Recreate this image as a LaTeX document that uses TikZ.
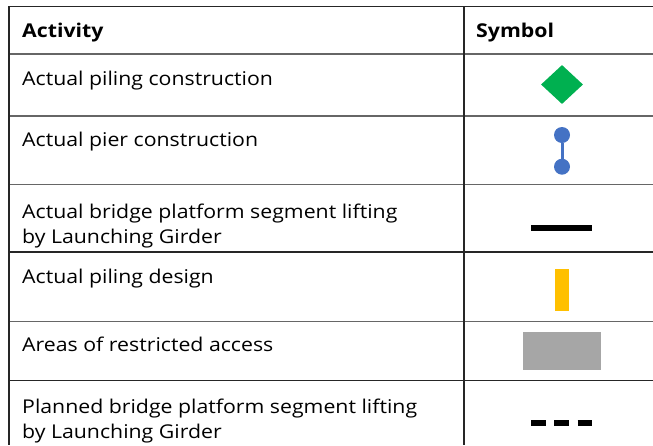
\documentclass[tikz,border=0pt]{standalone}
\usepackage{fontspec}
\setmainfont{Open Sans}[FakeStretch = 1.12]
\usetikzlibrary{shapes.geometric}

\definecolor{pilegreen}{HTML}{00B050}
\definecolor{pierblue}{HTML}{4472C4}
\definecolor{designyellow}{HTML}{FFC000}
\definecolor{areagray}{HTML}{A6A6A6}

\tikzset{
  rule/.style     = {line width = 1.5pt, black!85},
  softrule/.style = {line width = 1.5pt, black!60},
  cell/.style     = {anchor = base west, inner sep = 0pt, align = left,
                     font = \fontsize{19}{25}\selectfont},
  headcell/.style = {cell, font = \fontsize{19}{25}\selectfont\bfseries},
  pierend/.style  = {circle, fill = pierblue, minimum size = 16pt, inner sep = 0pt},
}

\begin{document}
\begin{tikzpicture}[x = 1pt, y = -1pt]
          \useasboundingbox (0,0) rectangle (653,445);

          % grid
          \draw[rule]     (9,6.7)   -- (653,6.7);
          \draw[softrule] (9,54)    -- (653,54);
          \draw[softrule] (9,116)   -- (653,116);
          \draw[softrule] (9,184.5) -- (653,184.5);
          \draw[rule]     (9,252)   -- (653,252);
          \draw[softrule] (9,321.5) -- (653,321.5);
          \draw[rule]     (9,380.3) -- (653,380.3);
          \draw[rule]     (9,6)     -- (9,445);
          \draw[rule]     (464,6)   -- (464,445);

          % header
          \node[headcell] at ( 22, 37.3) (hact) {Activity};
          \node[headcell] at (476, 37.3) (hsym) {Symbol};

          % activities (two-line cells sit on their last baseline)
          \node[cell] at (22, 85)    (pilecon)  {Actual piling construction};
          \node[cell] at (22,146.7)  (piercon)  {Actual pier construction};
          \node[cell] at (22,243.3)  (liftact)  {Actual bridge platform segment lifting\\by Launching Girder};
          \node[cell] at (22,283.3)  (piledes)  {Actual piling design};
          \node[cell] at (22,351.7)  (restrict) {Areas of restricted access};
          \node[cell] at (22,438.3)  (liftplan) {Planned bridge platform segment lifting\\by Launching Girder};

          % symbols
          \node[diamond, fill = pilegreen, minimum width = 42pt, minimum height = 39pt,
                inner sep = 0pt] at (562,84.5) (pilesym) {};

          \node[pierend] at (562,135)   (piertop) {};
          \node[pierend] at (562,166.7) (pierbot) {};
          \draw[pierblue, line width = 3pt] (piertop) -- (pierbot);

          \fill[black]        (531,225)   rectangle (592,230.7);
          \fill[designyellow] (555,269)   rectangle (568.7,310.7);
          \fill[areagray]     (523,332)   rectangle (601,370);
          \draw[black, line width = 6pt, dash pattern = on 14.7pt off 8.6pt]
                (531,423) -- (592.7,423);
        \end{tikzpicture}
\end{document}
